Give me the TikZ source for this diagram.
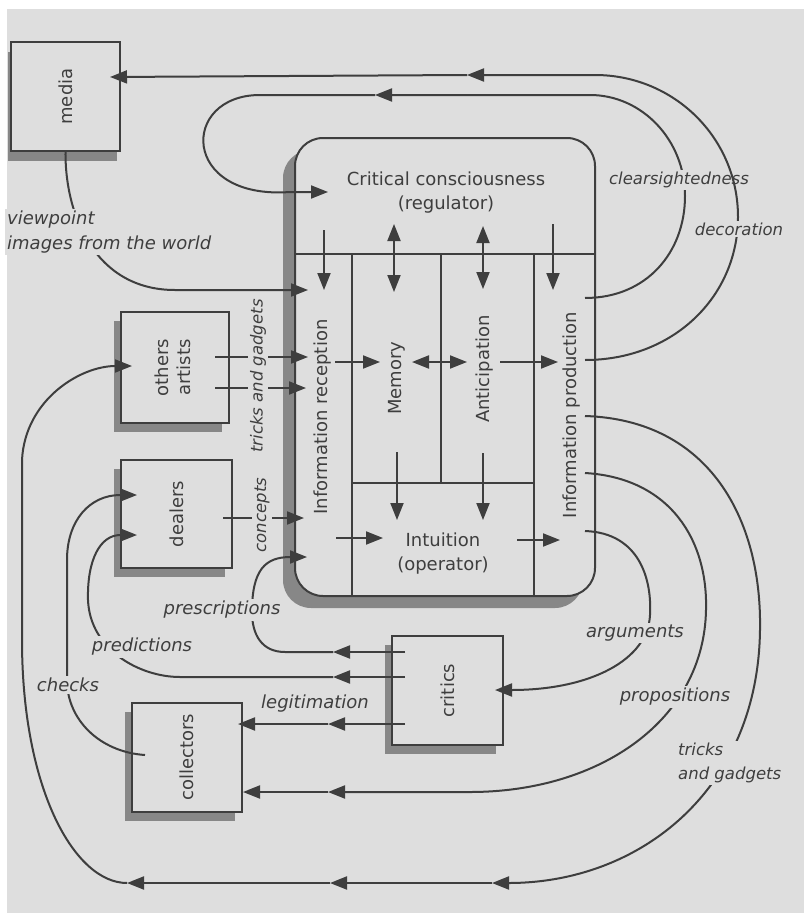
\documentclass[tikz,border=0pt]{standalone}
\usepackage{fontspec}
\setmainfont{DejaVu Sans}
\usetikzlibrary{arrows.meta,shadows}
\definecolor{bg}{RGB}{222,222,222}
\definecolor{ink}{RGB}{62,62,62}
\definecolor{shade}{RGB}{135,135,135}
\tikzset{
  Tri/.tip={Triangle[length=17pt,width=13pt]},
  ln/.style={draw=ink, line width=2pt},
  arr/.style={ln,-Tri},
  darr/.style={ln,Tri-Tri},
  boxbase/.style={draw=ink, line width=2pt, fill=bg, inner sep=0pt, text=ink,
     font=\fontsize{18}{22}\selectfont},
  box/.style={boxbase, drop shadow={shadow xshift=-7pt, shadow yshift=-9pt, fill=shade, opacity=1}},
  nt/.style={text=ink, font=\fontsize{18}{24}\selectfont, inner sep=0pt, align=center},
  lab/.style={text=ink, font=\fontsize{18}{25}\selectfont\itshape, fill=bg, inner sep=2pt},
  labs/.style={lab, font=\fontsize{16.5}{24}\selectfont\itshape},
}
\begin{document}
\begin{tikzpicture}[x=1pt,y=-1pt]
\useasboundingbox (0,0) rectangle (804,913);
\fill[white] (0,0) rectangle (804,913);
\fill[bg] (7,9) rectangle (804,913);

% ---------- boxes ----------
\node[boxbase, minimum width=109pt, minimum height=109pt,
      drop shadow={shadow xshift=-3pt, shadow yshift=-10pt, fill=shade, opacity=1}] (media) at (65.5,96.5) {\rotatebox{90}{media}};
\node[box, minimum width=108pt, minimum height=111pt] (others) at (175,367.5)
  {\rotatebox{90}{\begin{tabular}{@{}c@{}}others\\artists\end{tabular}}};
\node[box, minimum width=111pt, minimum height=108pt] (dealers) at (176.5,514) {\rotatebox{90}{dealers}};
\node[box, minimum width=111pt, minimum height=109pt] (critics) at (447.5,690.5) {\rotatebox{90}{critics}};
\node[box, minimum width=110pt, minimum height=109pt] (collectors) at (187,757.5) {\rotatebox{90}{collectors}};
\node[boxbase, rounded corners=28pt, minimum width=300pt, minimum height=458pt,
      drop shadow={shadow xshift=-12pt, shadow yshift=-12pt, fill=shade, opacity=1}] (main) at (445,367) {};

% inner partition of the main box
\draw[ln] (295,254) -- (595,254);
\draw[ln] (352,254) -- (352,596);
\draw[ln] (534,254) -- (534,596);
\draw[ln] (441,254) -- (441,483);
\draw[ln] (352,483) -- (534,483);

% ---------- texts in the main box ----------
\node[nt] (crit) at (446,193) {Critical consciousness\\(regulator)};
\node[nt, rotate=90] (recep) at (323,417) {Information reception};
\node[nt, rotate=90] (memory) at (397,378) {Memory};
\node[nt, rotate=90] (antic) at (485,369) {Anticipation};
\node[nt, rotate=90] (prod) at (572,415) {Information production};
\node[nt] (intuit) at (443,554) {Intuition\\(operator)};

% ---------- arrows inside the main box ----------
\draw[arr]  (324,230) -- (324,290);
\draw[darr] (394,224) -- (394,292);
\draw[darr] (483,226) -- (483,289);
\draw[arr]  (553,224) -- (553,290);
\draw[arr]  (335,362) -- (380,362);
\draw[darr] (412,362) -- (467,362);
\draw[arr]  (500,362) -- (558,362);
\draw[arr]  (397,452) -- (397,520);
\draw[arr]  (483,453) -- (483,520);
\draw[arr]  (336,538) -- (383,538);
\draw[arr]  (517,540) -- (560,540);

% ---------- named end points ----------
\coordinate (mediaIn) at (110,77);
\coordinate (p1s) at (585,360);
\coordinate (p1m) at (467,75);
\coordinate (p2s) at (585,298);
\coordinate (p2m) at (375,95);
\coordinate (critIn) at (328,192);
\coordinate (recIn1) at (308,290);
\coordinate (oa1) at (215,357);  \coordinate (recIn2) at (308,357);
\coordinate (oa2) at (215,388);  \coordinate (recIn3) at (306,388);
\coordinate (de1) at (223,518);  \coordinate (recIn4) at (304,518);
\coordinate (crA) at (405,652);  \coordinate (crAm) at (333,652); \coordinate (recIn5) at (307,557);
\coordinate (crB) at (405,677);  \coordinate (crBm) at (333,677); \coordinate (deIn2) at (137,535);
\coordinate (crC) at (405,724);  \coordinate (crCm) at (328,724); \coordinate (coIn1) at (238,724);
\coordinate (pA) at (585,531);   \coordinate (crIn) at (495,690);
\coordinate (pB) at (585,473);   \coordinate (pBm) at (328,792);  \coordinate (coIn2) at (243,792);
\coordinate (pC) at (585,416);   \coordinate (pCm1) at (492,883); \coordinate (pCm2) at (330,883);
\coordinate (pCm3) at (127,883); \coordinate (oaIn) at (132,366);
\coordinate (coOut) at (145,755); \coordinate (deIn1) at (137,495);

% ---------- connectors ----------
% clearsightedness loop
\draw[arr] (p2s) .. controls (647,298) and (685,252) .. (685,196)
   .. controls (685,140) and (642,95) .. (590,95) -- (p2m);
\draw[arr] (p2m) -- (260,95) .. controls (180,95) and (180,200) .. (290,192) -- (critIn);
% viewpoint
\draw[arr] (media.south) .. controls (65,215) and (95,290) .. (175,290) -- (recIn1);
% others artists, dealers
\draw[arr] (oa1) -- (recIn2);
\draw[arr] (oa2) -- (recIn3);
\draw[arr] (de1) -- (recIn4);
% prescriptions
\draw[arr] (crA) -- (crAm);
\draw[arr] (crAm) -- (285,652) .. controls (262,652) and (252,635) .. (252,612)
   .. controls (252,570) and (265,557) .. (recIn5);
% predictions
\draw[arr] (crB) -- (crBm);
\draw[arr] (crBm) -- (180,677) .. controls (140,677) and (90,650) .. (88,600)
   .. controls (87,560) and (100,535) .. (deIn2);
% legitimation
\draw[arr] (crC) -- (crCm);
\draw[arr] (crCm) -- (coIn1);
% arguments
\draw[arr] (pA) .. controls (640,533) and (652,580) .. (650,615)
   .. controls (648,660) and (590,690) .. (crIn);
% propositions
\draw[arr] (pB) .. controls (670,478) and (708,540) .. (706,610)
   .. controls (704,720) and (600,792) .. (470,792) -- (pBm);
\draw[arr] (pBm) -- (coIn2);
% tricks and gadgets
\draw[arr] (pC) .. controls (710,420) and (762,520) .. (760,630)
   .. controls (758,790) and (640,883) .. (pCm1);
\draw[arr] (pCm1) -- (pCm2);
\draw[arr] (pCm2) -- (pCm3);
\draw[arr] (pCm3) .. controls (75,883) and (22,790) .. (22,640) -- (22,460)
   .. controls (25,400) and (80,366) .. (oaIn);
% checks
\draw[arr] (coOut) .. controls (100,752) and (67,720) .. (67,680) -- (67,560)
   .. controls (67,520) and (90,495) .. (deIn1);

% ---------- labels ----------
\node[lab, align=left, anchor=west] (viewpoint) at (5,232) {viewpoint\\images from the world};
\node[labs, rotate=90] (tg) at (258,376) {tricks and gadgets};
\node[labs, rotate=90] (concepts) at (262,515) {concepts};
\node[lab] (prescriptions) at (222,610) {prescriptions};
\node[lab] (predictions) at (142,647) {predictions};
\node[lab] (checks) at (68,685) {checks};
\node[lab] (legit) at (315,704) {legitimation};
\node[lab] (arguments) at (635,633) {arguments};
\node[lab] (propositions) at (675,697) {propositions};
\node[labs, align=left, anchor=west] (tricks) at (676,763) {tricks\\and gadgets};
\node[labs] (clear) at (679,180) {clearsightedness};

% outer loop to the media (drawn over "clearsightedness")
\draw[arr] (p1s) .. controls (674,360) and (738,296) .. (738,217)
   .. controls (738,138) and (674,75) .. (595,75) -- (p1m);
\draw[arr] (p1m) -- (mediaIn);
\node[labs] (decoration) at (739,229) {decoration};
\end{tikzpicture}
\end{document}
